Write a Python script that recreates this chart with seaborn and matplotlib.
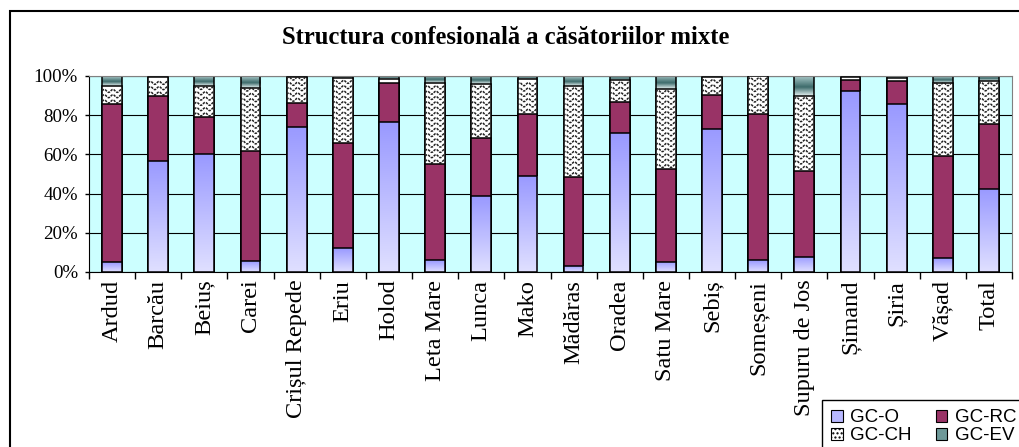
import numpy as np
import pandas as pd
import matplotlib
matplotlib.use('Agg')
import matplotlib.pyplot as plt
from matplotlib.colors import LinearSegmentedColormap
from matplotlib.patches import Patch, Rectangle
from matplotlib.font_manager import FontProperties
import seaborn as sns

towns = ['Ardud', 'Barcău', 'Beiuș', 'Carei', 'Crișul Repede', 'Eriu', 'Holod',
         'Leta Mare', 'Lunca', 'Mako', 'Mădăras', 'Oradea', 'Satu Mare', 'Sebiș',
         'Someșeni', 'Supuru de Jos', 'Șimand', 'Șiria', 'Vășad', 'Total']
gc_o = [4.9, 56.8, 60.0, 5.4, 74.1, 12.1, 76.5, 6.1, 38.6, 49.1,
        3.1, 70.9, 5.3, 73.1, 6.1, 7.8, 92.3, 85.7, 7.0, 42.5]
gc_rc = [80.6, 32.8, 18.9, 56.5, 12.3, 53.7, 20.1, 48.8, 29.8, 31.7,
         45.4, 15.7, 47.3, 17.4, 74.5, 43.9, 5.7, 11.6, 52.2, 33.0]
gc_ch = [9.4, 9.7, 16.0, 32.0, 12.9, 33.0, 1.7, 41.4, 27.5, 17.5,
         46.4, 11.4, 40.6, 8.8, 19.4, 38.1, 1.3, 1.7, 37.4, 21.8]
gc_ev = [5.1, 0.7, 5.1, 6.1, 0.7, 1.2, 1.7, 3.7, 4.1, 1.7,
         5.1, 2.0, 6.8, 0.7, 0.0, 10.2, 0.7, 1.0, 3.4, 2.7]
series = ['GC-O', 'GC-RC', 'GC-CH', 'GC-EV']

plt.rcParams['font.family'] = ['Liberation Serif', 'DejaVu Serif']

df = pd.DataFrame({'town': towns, 'GC-O': gc_o, 'GC-RC': gc_rc,
                   'GC-CH': gc_ch, 'GC-EV': gc_ev})
shares = df[series].div(df[series].sum(axis=1), axis=0) * 100
cum = shares.cumsum(axis=1)
cum['town'] = df['town']

fig = plt.figure(figsize=(10.19, 4.47), dpi=100)
ax = fig.add_axes([89 / 1019, 1 - 272 / 447, (1012 - 89) / 1019, (272 - 76) / 447])
ax.set_facecolor('#CCFFFF')

colors = {'GC-O': '#9999FF', 'GC-RC': '#993366', 'GC-CH': 'white', 'GC-EV': '#6E9999'}
layers = [('GC-EV', 2), ('GC-CH', 3), ('GC-RC', 4), ('GC-O', 5)]
bars = {}
for name, z in layers:
    sns.barplot(data=cum, x='town', y=name, color=colors[name], saturation=1,
                width=0.43, edgecolor='black', linewidth=1.1, errorbar=None,
                zorder=z, ax=ax)
    bars[name] = ax.containers[-1]

grad = np.linspace(0, 1, 256).reshape(-1, 1)
o_cmap = LinearSegmentedColormap.from_list('o', ['#E0E0FF', '#9999FF'])
ev_cmap = LinearSegmentedColormap.from_list(
    'ev', [(0, '#E8F4F4'), (0.45, '#3D6B6B'), (1, '#A8C8C8')])

# gradient fill for GC-O
for p in bars['GC-O']:
    x0, w, h = p.get_x(), p.get_width(), p.get_height()
    im = ax.imshow(grad, extent=[x0, x0 + w, 0, h], origin='lower', cmap=o_cmap,
                   aspect='auto', zorder=5.1, interpolation='bilinear')
    im.set_clip_path(p)
    p.set_facecolor('none')
    p.set_zorder(5.2)

# gradient fill for GC-EV (top segment)
for p, base in zip(bars['GC-EV'], cum['GC-CH']):
    x0, w, top = p.get_x(), p.get_width(), p.get_height()
    if top - base < 0.05:
        continue
    im = ax.imshow(grad, extent=[x0, x0 + w, base, top], origin='lower', cmap=ev_cmap,
                   aspect='auto', zorder=2.1, interpolation='bilinear')
    im.set_clip_path(p)
    p.set_facecolor('none')
    p.set_zorder(2.2)

# wave pattern for GC-CH
for p, base, top in zip(bars['GC-CH'], cum['GC-RC'], cum['GC-CH']):
    x0, w = p.get_x(), p.get_width()
    xs = np.linspace(x0, x0 + w, 40)
    for r in np.arange(base + 1.5, top - 0.4, 2.7):
        ax.plot(xs, r + 0.75 * np.sin(2 * np.pi * (xs - x0) / (w / 2.3)),
                color='#222222', lw=1.1, ls=(0, (1.6, 0.7)), zorder=3.1, clip_path=p)

ax.set_xlim(-0.5, len(towns) - 0.5)
ax.set_ylim(0, 100)
ax.set_yticks(range(0, 101, 20))
ax.set_yticklabels([f'{v}%' for v in range(0, 101, 20)], fontsize=13.6)
ax.set_xticks(range(len(towns)))
ax.set_xticklabels(towns, rotation=90, fontsize=17.6)
ax.set_xticks(np.arange(-0.5, len(towns), 1), minor=True)
ax.tick_params(axis='x', which='major', length=0, pad=5.5)
ax.tick_params(axis='x', which='minor', length=5, width=1, direction='out')
ax.tick_params(axis='y', length=3, width=1, pad=5, direction='out')
ax.set_xlabel('')
ax.set_ylabel('')
ax.yaxis.grid(True, color='black', lw=0.8)
ax.set_axisbelow(True)
for s in ['top', 'right']:
    ax.spines[s].set_color('#808080')
for s in ['left', 'bottom']:
    ax.spines[s].set_color('black')

fig.text(506 / 1019, 1 - 37 / 447, 'Structura confesională a căsătoriilor mixte',
         ha='center', va='center', fontsize=17.7, fontweight='bold')

fig.add_artist(Rectangle((10 / 1019, -0.1), 1.2, 1 - 11 / 447 + 0.1,
                         transform=fig.transFigure, fill=False,
                         edgecolor='black', lw=1.5, zorder=0))

handles = [Patch(facecolor='#B8B8FF', edgecolor='black', lw=0.8, label='GC-O'),
           Patch(facecolor='white', edgecolor='black', lw=0.8, hatch='....', label='GC-CH'),
           Patch(facecolor='#993366', edgecolor='black', lw=0.8, label='GC-RC'),
           Patch(facecolor='#6E9999', edgecolor='black', lw=0.8, label='GC-EV')]
leg = fig.legend(handles=handles, loc='upper left',
                 bbox_to_anchor=(822 / 1019, 1 - 400 / 447), ncol=2,
                 frameon=True, fancybox=False, edgecolor='black', framealpha=1,
                 prop=FontProperties(family='Liberation Sans', size=13.5),
                 borderpad=0.5, handlelength=0.6, handleheight=0.6,
                 handletextpad=0.4, columnspacing=1.3, labelspacing=0.05,
                 borderaxespad=0)
leg.get_frame().set_linewidth(1.0)

fig.savefig('out.png', dpi=100)
